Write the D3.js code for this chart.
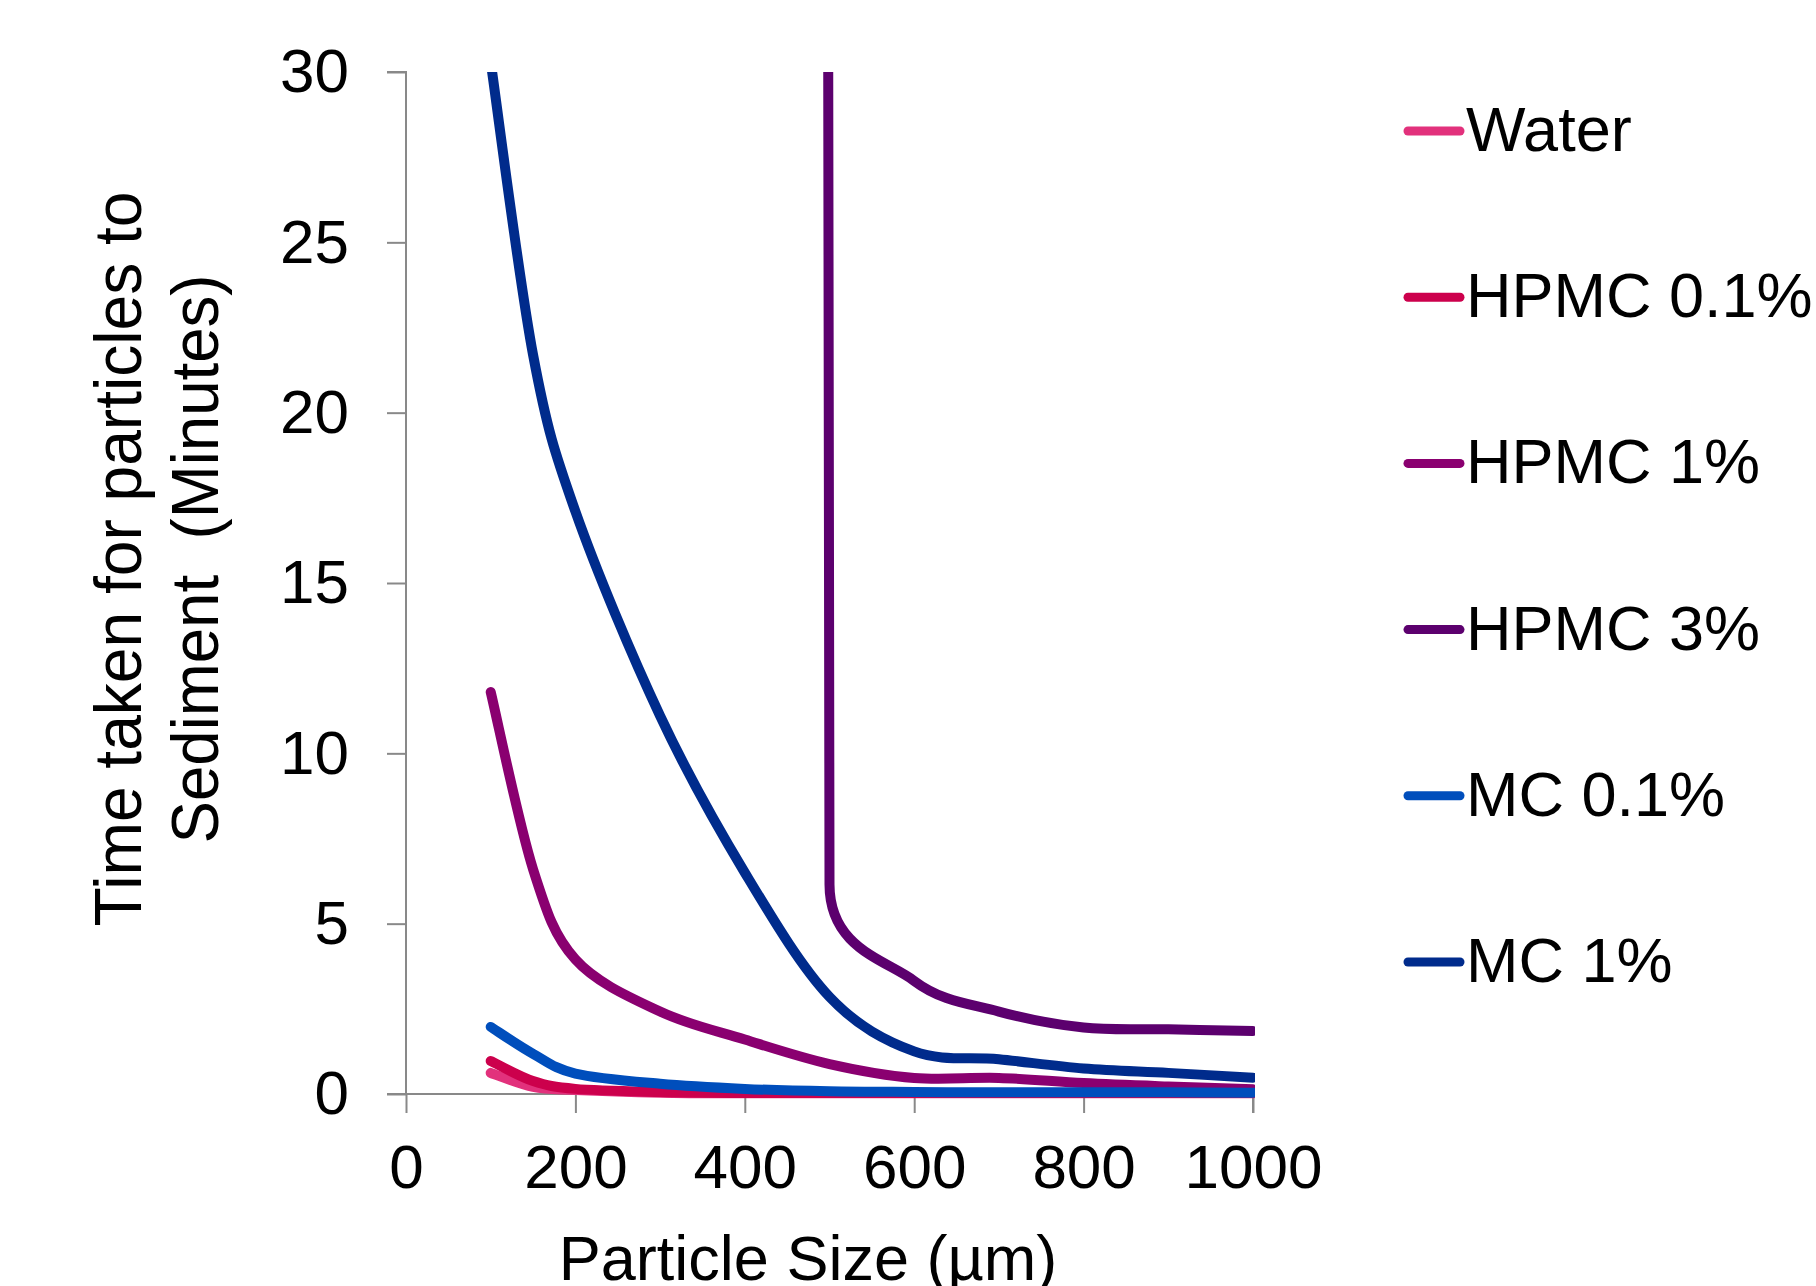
<!DOCTYPE html>
<html>
<head>
<meta charset="utf-8">
<script src="https://cdn.jsdelivr.net/npm/d3@7"></script>
<style>
  html, body { margin: 0; padding: 0; background: #ffffff; }
  svg { display: block; }
  text { font-family: "Liberation Sans", Arial, sans-serif; fill: #000; white-space: pre; }
</style>
</head>
<body>
<svg id="chart" width="1816" height="1286"></svg>
<script>
// ---------------- data ----------------
const particleSizes = [100, 150, 200, 300, 400, 500, 600, 700, 800, 900, 1000];
const seriesNames = ["Water", "HPMC 0.1%", "HPMC 1%", "HPMC 3%", "MC 0.1%", "MC 1%"];
const water   = [0.62, 0.21, 0.12, 0.04, 0.02, 0.02, 0.02, 0.02, 0.02, 0.02, 0.02];
const hpmc01  = [0.97, 0.38, 0.15, 0.06, 0.03, 0.03, 0.03, 0.03, 0.03, 0.03, 0.03];
const hpmc1   = [11.8, 6.6, 3.95, 2.42, 1.6, 0.88, 0.47, 0.47, 0.32, 0.22, 0.14];
const hpmc3   = [null, null, null, null, 1800, 6.15, 3.32, 2.42, 1.95, 1.9, 1.85];
const mc01    = [1.97, 1.18, 0.6, 0.3, 0.15, 0.08, 0.06, 0.05, 0.05, 0.05, 0.04];
const mc1     = [30.3, 21.7, 17.1, 11.1, 6.5, 2.85, 1.25, 1.02, 0.75, 0.62, 0.48];
const seriesValues = [water, hpmc01, hpmc1, hpmc3, mc01, mc1];
const seriesColors = ["#E2317C", "#CC004C", "#8A0070", "#5C006E", "#004EBC", "#002B8C"];
const xTicks = [0, 200, 400, 600, 800, 1000];
const yTicks = [0, 5, 10, 15, 20, 25, 30];
const xTitle = "Particle Size (µm)";
const yTitleLines = ["Time taken for particles to", "Sediment  (Minutes)"];

// ---------------- layout ----------------
const svg = d3.select("#chart");
const x = d3.scaleLinear().domain([0, 1000]).range([406, 1253]);
const y = d3.scaleLinear().domain([0, 30]).range([1094, 72]);
const axisColor = "#898989";
const fontSize = 62;

// Excel-like smoothed line curve
function ExcelSmooth(context) { this._context = context; }
ExcelSmooth.prototype = {
  areaStart() { this._line = 0; },
  areaEnd() { this._line = NaN; },
  lineStart() { this._pts = []; },
  point(px, py) { this._pts.push([+px, +py]); },
  lineEnd() {
    const p = this._pts, n = p.length, c = this._context;
    if (!n) return;
    c.moveTo(p[0][0], p[0][1]);
    if (n === 2) { c.lineTo(p[1][0], p[1][1]); return; }
    const dist = (a, b) => Math.hypot(a[0] - b[0], a[1] - b[1]);
    for (let i = 0; i < n - 1; i++) {
      const p0 = p[i > 0 ? i - 1 : i], p1 = p[i], p2 = p[i + 1], p3 = p[i + 2 < n ? i + 2 : i + 1];
      const d02 = dist(p0, p2), d12 = dist(p1, p2), d13 = dist(p1, p3);
      let f = 1 / 6, g = 1 / 6;
      if (d02 / 6 >= d12 / 2) f = d12 / d02 / 2;
      if (d13 / 6 >= d12 / 2) g = d12 / d13 / 2;
      c.bezierCurveTo(
        p1[0] + f * (p2[0] - p0[0]), p1[1] + f * (p2[1] - p0[1]),
        p2[0] - g * (p3[0] - p1[0]), p2[1] - g * (p3[1] - p1[1]),
        p2[0], p2[1]);
    }
  }
};
const excelCurve = ctx => new ExcelSmooth(ctx);

// clip
svg.append("defs").append("clipPath").attr("id", "plotClip")
  .append("rect").attr("x", 0).attr("y", y(30)).attr("width", x(1000) + 2).attr("height", 1286);

// axes
const yAxis = d3.axisLeft(y).tickValues(yTicks).tickSize(19).tickPadding(38).tickFormat(d3.format("d"));
const gy = svg.append("g").attr("transform", `translate(${x(0)},0)`).call(yAxis);
gy.select(".domain").attr("stroke", axisColor).attr("stroke-width", 2).attr("d", `M-19,${y(30)}H0V${y(0)}`);
gy.selectAll(".tick line").attr("stroke", axisColor).attr("stroke-width", 2);
gy.selectAll(".tick text").attr("font-size", fontSize).attr("font-family", "Liberation Sans, Arial, sans-serif").attr("fill", "#000");

const xAxis = d3.axisBottom(x).tickValues(xTicks).tickSize(19).tickPadding(31).tickFormat(d3.format("d"));
const gx = svg.append("g").attr("transform", `translate(0,${y(0)})`).call(xAxis);
gx.select(".domain").attr("stroke", axisColor).attr("stroke-width", 2).attr("d", `M${x(0) - 19},0H${x(1000)}V19`);
gx.selectAll(".tick line").attr("stroke", axisColor).attr("stroke-width", 2);
gx.selectAll(".tick text").attr("font-size", fontSize).attr("font-family", "Liberation Sans, Arial, sans-serif").attr("fill", "#000");

// lines
const line = d3.line()
  .defined(d => d[1] !== null)
  .x(d => x(d[0])).y(d => y(d[1]))
  .curve(excelCurve);

const plot = svg.append("g").attr("clip-path", "url(#plotClip)");
seriesValues.forEach((vals, i) => {
  const pts = particleSizes.map((s, j) => [s, vals[j]]).filter(d => d[1] !== null);
  plot.append("path")
    .attr("d", line(pts))
    .attr("fill", "none")
    .attr("stroke", seriesColors[i])
    .attr("stroke-width", 10)
    .attr("stroke-linecap", "round")
    .attr("stroke-linejoin", "round");
});

// axis titles
svg.append("text")
  .attr("x", 808).attr("y", 1280)
  .attr("text-anchor", "middle")
  .attr("font-size", 63)
  .text(xTitle);

const yt = svg.append("g").attr("transform", "translate(0,559) rotate(-90)");
yt.append("text").attr("x", 0).attr("y", 141).attr("text-anchor", "middle")
  .attr("font-size", 67).attr("textLength", 735).attr("lengthAdjust", "spacingAndGlyphs")
  .text(yTitleLines[0]);
yt.append("text").attr("x", 0).attr("y", 218).attr("text-anchor", "middle")
  .attr("font-size", 67).attr("textLength", 569).attr("lengthAdjust", "spacingAndGlyphs")
  .text(yTitleLines[1]);

// legend
const legendY = d3.scalePoint().domain(seriesNames).range([131, 962]);
const lg = svg.append("g");
seriesNames.forEach((name, i) => {
  const ly = legendY(name);
  lg.append("line").attr("x1", 1408).attr("x2", 1460).attr("y1", ly).attr("y2", ly)
    .attr("stroke", seriesColors[i]).attr("stroke-width", 9).attr("stroke-linecap", "round");
  lg.append("text").attr("x", 1466).attr("y", ly + 20).attr("font-size", 63).text(name);
});
</script>
</body>
</html>
